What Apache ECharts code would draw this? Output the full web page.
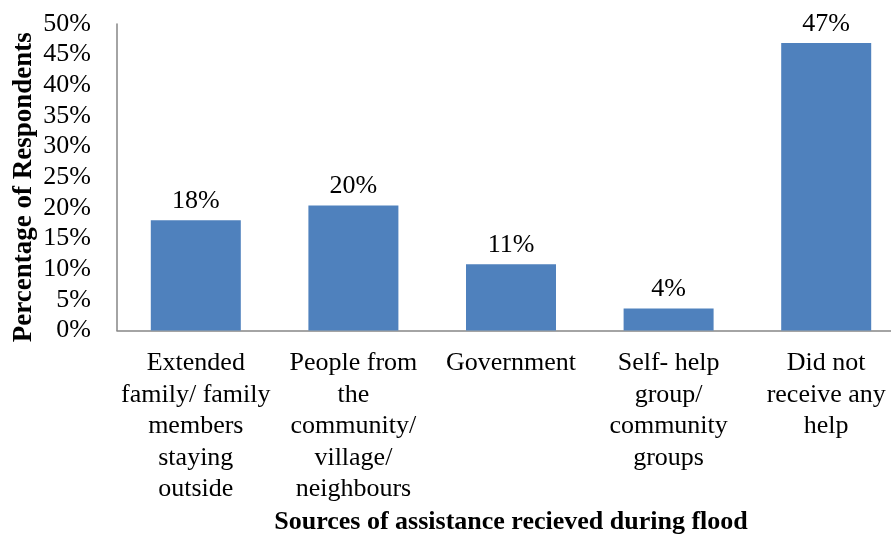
<!DOCTYPE html>
<html>
<head>
<meta charset="utf-8">
<script src="https://cdn.jsdelivr.net/npm/echarts@6/dist/echarts.min.js"></script>
<style>
  html, body { margin: 0; padding: 0; background: #fff; }
  #chart { width: 891px; height: 537px; }
</style>
</head>
<body>
<div id="chart"></div>
<script>
// Sources of assistance received during the flood (share of respondents, %)
const categories = [
  'Extended\nfamily/ family\nmembers\nstaying\noutside',
  'People from\nthe\ncommunity/\nvillage/\nneighbours',
  'Government',
  'Self- help\ngroup/\ncommunity\ngroups',
  'Did not\nreceive any\nhelp'
];
const shares = [18.0, 20.4, 10.8, 3.6, 46.9];
const yTicks = { min: 0, max: 50, step: 5 };

const FONT = '"Liberation Serif", "Times New Roman", serif';

const chart = echarts.init(document.getElementById('chart'), null, { renderer: 'canvas' });

chart.setOption({
  animation: false,
  backgroundColor: '#ffffff',
  // the plot runs a little past the right edge of the canvas
  grid: { left: 117, top: 24, width: 788, bottom: 206.5, containLabel: false, outerBoundsMode: 'none' },
  xAxis: {
    type: 'category',
    data: categories,
    name: 'Sources of assistance recieved during flood',
    nameLocation: 'middle',
    nameGap: 179,
    nameMoveOverlap: false,
    nameTextStyle: { fontFamily: FONT, fontSize: 26, fontWeight: 'bold', color: '#000' },
    axisLine: { lineStyle: { color: '#868686', width: 1.5 } },
    axisTick: { show: false },
    axisLabel: {
      interval: 0,
      margin: 17,
      fontFamily: FONT,
      fontSize: 26,
      lineHeight: 31.5,
      color: '#000',
      align: 'center'
    }
  },
  yAxis: {
    type: 'value',
    min: yTicks.min,
    max: yTicks.max,
    interval: yTicks.step,
    name: 'Percentage of Respondents',
    nameLocation: 'middle',
    nameGap: 79,
    nameMoveOverlap: false,
    nameTextStyle: {
      fontFamily: FONT, fontSize: 27, fontWeight: 'bold', color: '#000',
      padding: [0, 20, 0, 0]
    },
    axisLine: { show: true, lineStyle: { color: '#868686', width: 1.5 } },
    axisTick: { show: false },
    splitLine: { show: false },
    axisLabel: {
      margin: 26,
      fontFamily: FONT,
      fontSize: 26,
      color: '#000',
      formatter: '{value}%'
    }
  },
  series: [{
    type: 'bar',
    data: shares,
    barWidth: 90,
    itemStyle: { color: '#4F81BD' },
    label: {
      show: true,
      position: 'top',
      distance: 6,
      fontFamily: FONT,
      fontSize: 26,
      color: '#000',
      formatter: p => Math.round(p.value) + '%'
    }
  }]
});
</script>
</body>
</html>
